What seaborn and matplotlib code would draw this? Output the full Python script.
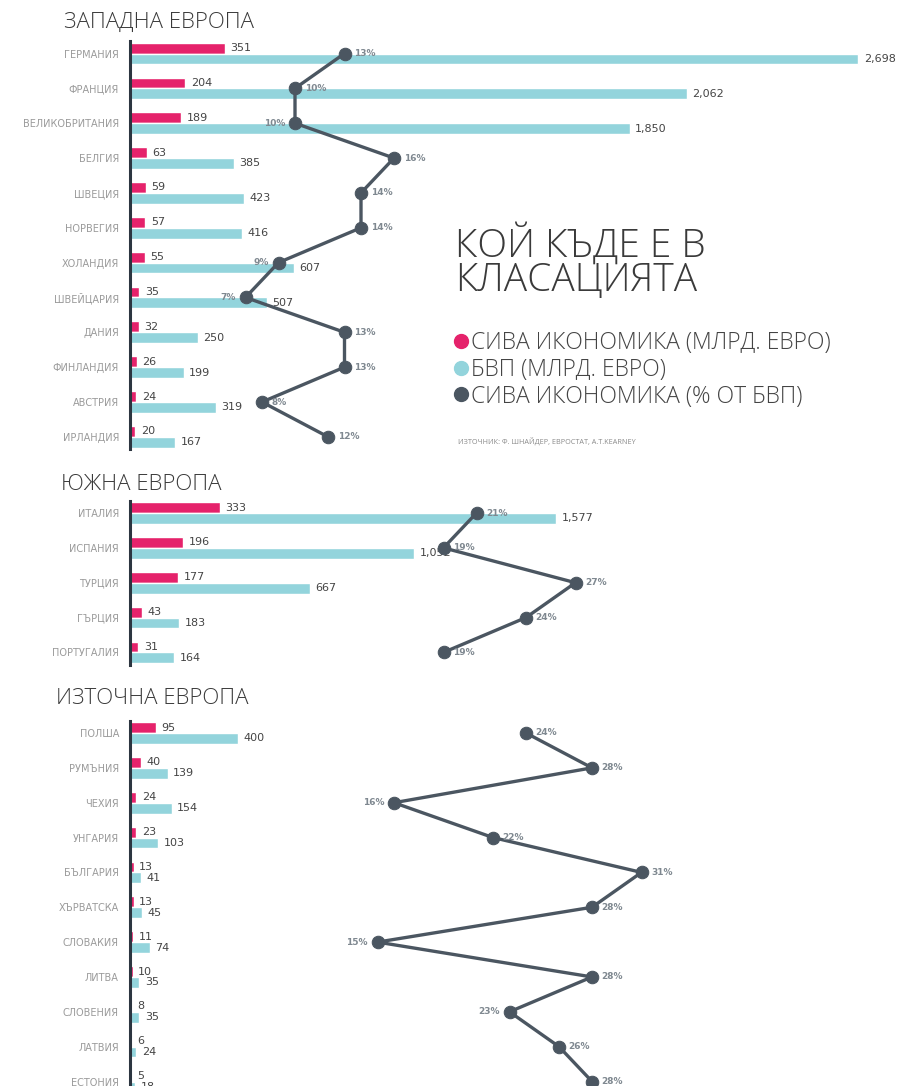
import numpy as np
import pandas as pd
import matplotlib
matplotlib.use("Agg")
import matplotlib.pyplot as plt
from matplotlib.lines import Line2D
import seaborn as sns

# ---------------- data ----------------
west_countries = ["ГЕРМАНИЯ", "ФРАНЦИЯ", "ВЕЛИКОБРИТАНИЯ", "БЕЛГИЯ", "ШВЕЦИЯ", "НОРВЕГИЯ",
                  "ХОЛАНДИЯ", "ШВЕЙЦАРИЯ", "ДАНИЯ", "ФИНЛАНДИЯ", "АВСТРИЯ", "ИРЛАНДИЯ"]
west_shadow = [351, 204, 189, 63, 59, 57, 55, 35, 32, 26, 24, 20]
west_gdp = [2698, 2062, 1850, 385, 423, 416, 607, 507, 250, 199, 319, 167]
west_pct = [13, 10, 10, 16, 14, 14, 9, 7, 13, 13, 8, 12]

south_countries = ["ИТАЛИЯ", "ИСПАНИЯ", "ТУРЦИЯ", "ГЪРЦИЯ", "ПОРТУГАЛИЯ"]
south_shadow = [333, 196, 177, 43, 31]
south_gdp = [1577, 1052, 667, 183, 164]
south_pct = [21, 19, 27, 24, 19]

east_countries = ["ПОЛША", "РУМЪНИЯ", "ЧЕХИЯ", "УНГАРИЯ", "БЪЛГАРИЯ", "ХЪРВАТСКА",
                  "СЛОВАКИЯ", "ЛИТВА", "СЛОВЕНИЯ", "ЛАТВИЯ", "ЕСТОНИЯ"]
east_shadow = [95, 40, 24, 23, 13, 13, 11, 10, 8, 6, 5]
east_gdp = [400, 139, 154, 103, 41, 45, 74, 35, 35, 24, 18]
east_pct = [24, 28, 16, 22, 31, 28, 15, 28, 23, 26, 28]

section_titles = ["ЗАПАДНА ЕВРОПА", "ЮЖНА ЕВРОПА", "ИЗТОЧНА ЕВРОПА"]
series_names = ["СИВА ИКОНОМИКА (МЛРД. ЕВРО)", "БВП (МЛРД. ЕВРО)", "СИВА ИКОНОМИКА (% ОТ БВП)"]
main_title = ["КОЙ КЪДЕ Е В", "КЛАСАЦИЯТА"]
source_text = "ИЗТОЧНИК: Ф. ШНАЙДЕР, ЕВРОСТАТ, A.T.KEARNEY"

# ---------------- style ----------------
PINK = "#e5226b"
BLUE = "#93d4dc"
SLATE = "#4b5661"
AXIS = "#2c3540"
TEXT = "#3a3a3a"

sns.set_theme(style="white")
plt.rcParams['font.family'] = ['Open Sans', 'DejaVu Sans']

W, H = 905, 1086
fig = plt.figure(figsize=(W / 100, H / 100), dpi=100)

X0, X1 = 130, 905
BAR_PX = 0.27     # pixels per bn euro
PCT_PX = 16.5     # pixels per percent
ROW = 34.85

# label placement for % (left side for these indices)
left_side = [{2, 6, 7}, set(), {2, 6, 8}]
# (first row centre y, title centre y, title left x) in pixels
layout = [(53.5, 22, 64), (513, 485, 61), (733, 699, 56)]

sections = [
    (west_countries, west_shadow, west_gdp, west_pct),
    (south_countries, south_shadow, south_gdp, south_pct),
    (east_countries, east_shadow, east_gdp, east_pct),
]

for k, ((countries, shadow, gdp, pct), (c0, ty, tx)) in enumerate(zip(sections, layout)):
    n = len(countries)
    top = c0 - 0.35 * ROW
    bottom = c0 + (n - 1) * ROW + 0.35 * ROW
    ax = fig.add_axes([X0 / W, 1 - bottom / H, (X1 - X0) / W, (bottom - top) / H])
    df = pd.DataFrame({
        "country": countries * 2,
        "value": shadow + gdp,
        "series": ["shadow"] * n + ["gdp"] * n,
    })
    sns.barplot(data=df, y="country", x="value", hue="series",
                palette={"shadow": PINK, "gdp": BLUE}, orient="h", width=0.62,
                dodge=True, saturation=1, legend=False, ax=ax)
    for cont, vals in zip(ax.containers, [shadow, gdp]):
        ax.bar_label(cont, labels=[f"{v:,}" for v in vals], padding=4,
                     fontsize=8, color="#444444", family="DejaVu Sans")

    ax2 = ax.twiny()
    sns.lineplot(x=pct, y=np.arange(n), sort=False, orient="y", estimator=None,
                 marker="o", markersize=9, linewidth=2.4, color=SLATE,
                 markeredgecolor=SLATE, ax=ax2)
    ax2.set_xlim(0, (X1 - X0) / PCT_PX)
    for i, p in enumerate(pct):
        if i in left_side[k]:
            ax2.annotate(f"{p}%", (p, i), xytext=(-7, 0), textcoords="offset points",
                         ha="right", va="center", fontsize=6.5, fontweight="bold",
                         color="#7f8890", family="DejaVu Sans")
        else:
            ax2.annotate(f"{p}%", (p, i), xytext=(7, 0), textcoords="offset points",
                         ha="left", va="center", fontsize=6.5, fontweight="bold",
                         color="#7f8890", family="DejaVu Sans")
    ax2.axis("off")

    ax.set_xlim(0, (X1 - X0) / BAR_PX)
    ax.set_ylim(n - 1 + 0.35, -0.35)
    ax.set_xticks([])
    ax.set_xlabel("")
    ax.set_ylabel("")
    sns.despine(ax=ax, top=True, right=True, bottom=True, left=False)
    ax.spines["left"].set_color(AXIS)
    ax.spines["left"].set_linewidth(2.2)
    ax.tick_params(axis="y", length=0, pad=8, labelsize=7, labelcolor="#9a9a9a")
    for t in ax.get_yticklabels():
        t.set_family("DejaVu Sans")
    ax.patch.set_alpha(0)

    fig.text(tx / W, 1 - ty / H, section_titles[k], fontsize=16, fontweight="light",
             color=TEXT, va="center", ha="left")

# main title
fig.text(455 / W, 1 - 244 / H, main_title[0], fontsize=28, fontweight="light",
         color=TEXT, va="center", ha="left")
fig.text(455 / W, 1 - 281 / H, main_title[1], fontsize=28, fontweight="light",
         color=TEXT, va="center", ha="left")

handles = [Line2D([], [], marker="o", ls="", color=c, markersize=10)
           for c in [PINK, BLUE, SLATE]]
leg = fig.legend(handles=handles, labels=series_names, loc="upper left",
                 bbox_to_anchor=(452 / W, 1 - 331 / H), frameon=False, fontsize=16.5,
                 handletextpad=0.05, labelspacing=0.12, handlelength=0.8,
                 borderpad=0, borderaxespad=0)
for t in leg.get_texts():
    t.set_color("#444444")
    t.set_fontweight("light")

fig.text(458 / W, 1 - 441 / H, source_text, fontsize=5.2, color="#8a8a8a",
         va="center", ha="left")

fig.savefig("out.png", dpi=100, facecolor="white")
